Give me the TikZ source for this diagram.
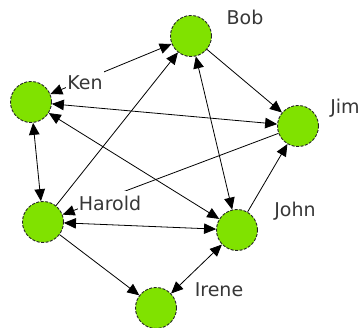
\documentclass[tikz,border=0pt]{standalone}
\usepackage{fontspec}
\setsansfont{DejaVu Sans}
\usetikzlibrary{arrows.meta}
\definecolor{nodegreen}{RGB}{128,226,0}
\definecolor{labelgray}{RGB}{55,55,55}

\begin{document}
\begin{tikzpicture}[
  x=1pt, y=-1pt,
  person/.style={circle, draw=black!85, line width=0.9pt, dash pattern=on 3pt off 1.5pt, fill=nodegreen, minimum size=41pt, inner sep=0pt},
  namelabel/.style={fill=white, text=labelgray, font=\sffamily\fontsize{19}{19}\selectfont, inner xsep=1pt, inner ysep=5pt},
  link/.style={draw, line width=0.8pt, -{Triangle[length=12pt,width=10.5pt]}},
  twoway/.style={link, {Triangle[length=12pt,width=10.5pt]}-{Triangle[length=12pt,width=10.5pt]}}
]
\useasboundingbox (0,0) rectangle (361,328);

% people
\node[person] (bob) at (191,36) {};
\node[person] (ken) at (31,102) {};
\node[person] (jim) at (298,126) {};
\node[person] (harold) at (43,222) {};
\node[person] (john) at (237,230) {};
\node[person] (irene) at (156,308) {};

% relations
\draw[twoway] (ken) -- (bob);
\draw[twoway] (ken) -- (jim);
\draw[twoway] (ken) -- (john);
\draw[twoway] (ken) -- (harold);
\draw[link] (harold) -- (bob);
\draw[link] (jim) -- (harold);
\draw[twoway] (harold) -- (john);
\draw[link] (harold) -- (irene);
\draw[link] (bob) -- (jim);
\draw[twoway] (bob) -- (john);
\draw[link] (john) -- (jim);
\draw[twoway] (john) -- (irene);

% names
\node[namelabel] (bobname) at (245,17) {Bob};
\node[namelabel] (kenname) at (85,83) {Ken};
\node[namelabel] (jimname) at (345,108) {Jim};
\node[namelabel] (haroldname) at (110,203) {Harold};
\node[namelabel] (johnname) at (295,211) {John};
\node[namelabel] (irenename) at (219,290) {Irene};
\end{tikzpicture}
\end{document}
